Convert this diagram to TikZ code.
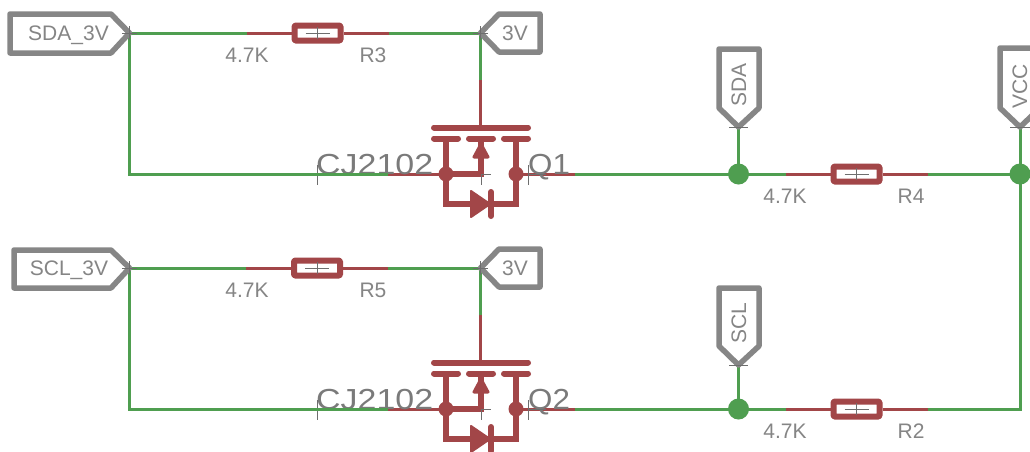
\documentclass[tikz,border=0pt]{standalone}
\usepackage{fontspec}
\usepackage{graphicx}
\setmainfont{Liberation Sans}
\definecolor{wiregreen}{HTML}{4F9E50}
\definecolor{partred}{HTML}{A24648}
\definecolor{taggray}{HTML}{868686}
\definecolor{labelgray}{HTML}{858585}
\definecolor{thinmark}{HTML}{6E6E6E}
\tikzset{
  wire/.style={draw=wiregreen,line width=3pt},
  lead/.style={draw=partred,line width=3pt},
  tag/.style={draw=taggray,line width=5.5pt,line join=round,fill=white},
  tickmark/.style={draw=thinmark,line width=0.9pt},
  lbl/.style={text=labelgray,inner sep=0pt,font=\fontsize{21}{21}\selectfont},
  big/.style={text=labelgray!92!black,inner sep=0pt,font=\fontsize{29}{29}\selectfont},
  taglbl/.style={text=labelgray,inner sep=0pt,font=\fontsize{21}{21}\selectfont},
  res/.style={draw=partred,line width=6pt,line join=round,rounded corners=1pt,fill=white,minimum width=46pt,minimum height=15pt,inner sep=0pt},
  bar/.style={draw=partred,line width=6pt,line cap=round},
  stem/.style={draw=partred,line width=6pt},
  dotred/.style={circle,fill=partred,minimum size=15pt,inner sep=0pt},
  dotgreen/.style={circle,fill=wiregreen,minimum size=21pt,inner sep=0pt}
}
% resistor: name, x, y
\newcommand{\resist}[3]{%
  \node[res] (#1) at (#2,#3) {};
  \coordinate (#1a) at (#2-71,#3);
  \coordinate (#1b) at (#2+71,#3);
  \draw[lead] (#1a) -- (#1.west);
  \draw[lead] (#1.east) -- (#1b);
  \draw[tickmark] (#2-12,#3) -- (#2+12,#3) (#2,#3-6) -- (#2,#3+6);
}
% mosfet: name, y offset, label
\newcommand{\fet}[3]{%
  \begin{scope}[yshift=-#2pt]
    \coordinate (#1g) at (480.5,80);
    \coordinate (#1gb) at (480.5,127);
    \coordinate (#1sl) at (388,174);
    \coordinate (#1sr) at (575,174);
    \draw[lead] (#1g) -- (#1gb);
    \draw[lead] (#1sl) -- (446,174);
    \draw[lead] (516,174) -- (#1sr);
    \node[big,anchor=base west] (#1v) at (316,174.5) {\scalebox{1.17}[1]{CJ2102}};
    \node[big,anchor=base west] (#1n) at (528,174.5) {\scalebox{1.08}[1]{#3}};
    \draw[bar] (434,127.5) -- (528,127.5);
    \draw[bar] (434,138.5) -- (458,138.5);
    \draw[bar] (469,138.5) -- (493,138.5);
    \draw[bar] (504,138.5) -- (528,138.5);
    \draw[stem] (446,138) -- (446,204) -- (516,204) -- (516,138);
    \draw[stem] (446,174) -- (481,174) -- (481,138);
    \fill[partred,line join=round,draw=partred,line width=3pt] (481,144) -- (488,157) -- (474,157) -- cycle;
    \fill[partred,line join=round,draw=partred,line width=2pt] (471,191) -- (490,204) -- (471,217) -- cycle;
    \draw[partred,line width=6pt,line cap=round] (491,192) -- (491,216);
    \node[dotred] (#1d1) at (446,174) {};
    \node[dotred] (#1d2) at (516,174) {};
    \draw[tickmark] (317,165) -- (317,185) (528,165) -- (528,185) (481,174) -- (491,174) (481,174) -- (481,185) (528,174) -- (546,174);
  \end{scope}
}
\begin{document}
\begin{tikzpicture}[x=1pt,y=-1pt]
\useasboundingbox (0,0) rectangle (1030,451);
\fill[white] (0,0) rectangle (1030,451);

% named points
\coordinate (sda3) at (129.5,33);
\coordinate (scl3) at (129.5,268);
\coordinate (v3a) at (480.5,33);
\coordinate (v3b) at (480.5,268);
\coordinate (sdap) at (738.5,127);
\coordinate (sclp) at (738.5,365);
\coordinate (vccp) at (1020,127);
\coordinate (c1) at (129.5,174);
\coordinate (c2) at (129.5,409);
\coordinate (c3) at (1020,409);

% parts
\resist{R3}{317.5}{33}
\resist{R5}{317}{268}
\resist{R4}{856.5}{174}
\resist{R2}{856.5}{409}
\fet{Qa}{0}{Q1}
\fet{Qb}{235}{Q2}

% green nets
\draw[wire] (sda3) -- (R3a);
\draw[wire] (R3b) -- (v3a) -- (Qag);
\draw[wire] (sda3) -- (c1) -- (Qasl);
\draw[wire] (scl3) -- (R5a);
\draw[wire] (R5b) -- (v3b) -- (Qbg);
\draw[wire] (scl3) -- (c2) -- (Qbsl);
\draw[wire] (Qasr) -- (R4a);
\draw[wire] (Qbsr) -- (R2a);
\draw[wire] (R4b) -- (1020,174);
\draw[wire] (R2b) -- (c3) -- (vccp);
\draw[wire] (sdap) -- (738.5,174);
\draw[wire] (sclp) -- (738.5,409);
\node[dotgreen] (ja) at (738.5,174) {};
\node[dotgreen] (jb) at (738.5,409) {};
\node[dotgreen] (jc) at (1020,174) {};

% tags
\draw[tag] (sda3) -- (111,53) -- (10,53) -- (10,14) -- (111,14) -- cycle;
\node[taglbl] (tSDA3) at (68.5,35) {SDA\_3V};
\draw[tag] (scl3) -- (111,288) -- (14,288) -- (14,250) -- (111,250) -- cycle;
\node[taglbl] (tSCL3) at (69,270) {SCL\_3V};
\draw[tag] (v3a) -- (499,52) -- (540,52) -- (540,14) -- (499,14) -- cycle;
\node[taglbl] (t3Va) at (515,33.5) {3V};
\draw[tag] (v3b) -- (499,287) -- (540,287) -- (540,249) -- (499,249) -- cycle;
\node[taglbl] (t3Vb) at (515,268) {3V};
\draw[tag] (sdap) -- (719,108) -- (719,49) -- (759,49) -- (759,108) -- cycle;
\node[taglbl,rotate=90] (tSDA) at (739,85) {SDA};
\draw[tag] (sclp) -- (719,346) -- (719,288) -- (759,288) -- (759,346) -- cycle;
\node[taglbl,rotate=90] (tSCL) at (739,323) {SCL};
\draw[tag] (vccp) -- (1000,108) -- (1000,48) -- (1040,48) -- (1040,108) -- cycle;
\node[taglbl,rotate=90] (tVCC) at (1020,86) {VCC};

% pin marks
\draw[tickmark] (122,33) -- (137,33) (129.5,26) -- (129.5,40)
  (122,268) -- (137,268) (129.5,261) -- (129.5,275)
  (473,33) -- (488,33) (480.5,26) -- (480.5,40)
  (473,268) -- (488,268) (480.5,261) -- (480.5,275)
  (729,127) -- (748,127) (729,365) -- (748,365) (1010,127) -- (1030,127);

% value labels
\node[lbl] (v3) at (247,55) {4.7K};
\node[lbl] (n3) at (373,55) {R3};
\node[lbl] (v5) at (247,290) {4.7K};
\node[lbl] (n5) at (373,290) {R5};
\node[lbl] (v4) at (785,196) {4.7K};
\node[lbl] (n4) at (911,196) {R4};
\node[lbl] (v2) at (785,431) {4.7K};
\node[lbl] (n2) at (911,431) {R2};
\end{tikzpicture}
\end{document}
